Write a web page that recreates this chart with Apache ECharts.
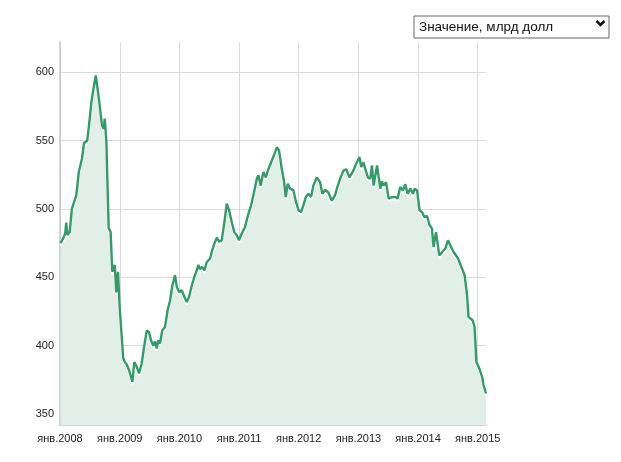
<!DOCTYPE html>
<html>
<head>
<meta charset="utf-8">
<script src="https://cdn.jsdelivr.net/npm/echarts@6/dist/echarts.min.js"></script>
<style>
  html, body { margin: 0; padding: 0; background: #fff; }
  #chart { width: 621px; height: 462px; }
</style>
</head>
<body>
<div id="chart"></div>
<script>
// недельные точки (млрд долл)
const dates = [
  '2008-01-04', '2008-01-19', '2008-02-02', '2008-02-08', '2008-02-15', '2008-02-29', '2008-03-14', '2008-03-27',
  '2008-04-10', '2008-04-25', '2008-05-15', '2008-05-27', '2008-06-16', '2008-07-01', '2008-07-11', '2008-07-27',
  '2008-08-07', '2008-08-16', '2008-08-25', '2008-09-04', '2008-09-14', '2008-09-25', '2008-10-01', '2008-10-11',
  '2008-10-25', '2008-11-06', '2008-11-16', '2008-12-01', '2008-12-11', '2008-12-21',
  '2009-01-01', '2009-01-10', '2009-01-22', '2009-02-01', '2009-02-13', '2009-02-27', '2009-03-09', '2009-03-19',
  '2009-03-31', '2009-04-15', '2009-04-29', '2009-05-15', '2009-05-31', '2009-06-15', '2009-06-29', '2009-07-11',
  '2009-07-25', '2009-08-05', '2009-08-15', '2009-08-25', '2009-09-04', '2009-09-18', '2009-10-05', '2009-10-21',
  '2009-11-05', '2009-11-19', '2009-12-05', '2009-12-16', '2009-12-31',
  '2010-01-15', '2010-02-05', '2010-02-15', '2010-03-01', '2010-03-18', '2010-04-02', '2010-04-17', '2010-04-27',
  '2010-05-07', '2010-05-21', '2010-06-03', '2010-06-17', '2010-07-08', '2010-07-18', '2010-08-03', '2010-08-18',
  '2010-09-01', '2010-09-17', '2010-10-03', '2010-10-18', '2010-11-01', '2010-11-18', '2010-12-03', '2010-12-18',
  '2011-01-01', '2011-01-18', '2011-02-07', '2011-02-24', '2011-03-16', '2011-03-30', '2011-04-20', '2011-04-29',
  '2011-05-14', '2011-05-30', '2011-06-14', '2011-06-30', '2011-07-20', '2011-08-10', '2011-08-20', '2011-09-03',
  '2011-09-20', '2011-10-04', '2011-10-14', '2011-10-26', '2011-11-10', '2011-11-30', '2011-12-14', '2011-12-31',
  '2012-01-16', '2012-01-30', '2012-02-14', '2012-03-01', '2012-03-17', '2012-03-31', '2012-04-21', '2012-05-11',
  '2012-05-25', '2012-06-11', '2012-07-01', '2012-07-22', '2012-08-11', '2012-08-22', '2012-09-11', '2012-10-01',
  '2012-10-18', '2012-11-07', '2012-12-01', '2012-12-18',
  '2013-01-08', '2013-01-18', '2013-02-01', '2013-02-12', '2013-02-28', '2013-03-14', '2013-03-25', '2013-04-04',
  '2013-04-14', '2013-04-25', '2013-05-04', '2013-05-15', '2013-05-25', '2013-06-04', '2013-06-19', '2013-07-05',
  '2013-07-25', '2013-08-15', '2013-08-29', '2013-09-14', '2013-10-01', '2013-10-15', '2013-10-29', '2013-11-15',
  '2013-12-01', '2013-12-11', '2013-12-26',
  '2014-01-10', '2014-01-25', '2014-02-08', '2014-02-25', '2014-03-13', '2014-03-27', '2014-04-06', '2014-04-21',
  '2014-05-11', '2014-05-23', '2014-06-17', '2014-07-03', '2014-07-17', '2014-08-07', '2014-09-03', '2014-09-27',
  '2014-10-13', '2014-10-28', '2014-11-06', '2014-12-01', '2014-12-13', '2014-12-24',
  '2015-01-11', '2015-01-28', '2015-02-06', '2015-02-21'
]

const reserves = [
  475, 478, 482, 490, 481, 483, 500, 505,
  510, 527, 537, 548, 550, 566, 578, 590,
  597.5, 597, 581.6, 583, 561, 558.5, 566, 549,
  486, 483, 454, 459, 439, 454,
  427, 426, 391, 388, 386, 382, 381, 373.6,
  388, 384.5, 379.7, 387, 400, 411, 410, 404,
  400, 403, 398, 404, 401.6, 411, 413.7, 426,
  433, 444, 451.5, 443, 439,
  440.5, 434.5, 432, 435.6, 444, 450, 455, 459,
  456, 457.5, 455, 461, 463.7, 468.5, 474.6, 479,
  476, 477, 490, 503.8, 499, 490, 483, 480.7,
  477, 482, 486.7, 495, 502.6, 510, 522, 524.5,
  517, 527, 523, 529, 535, 541.5, 545, 542.7,
  529, 519.6, 508.6, 518.4, 514.8, 513.5, 506, 499,
  497.7, 502.6, 508.6, 511, 508.6, 517, 523, 519.6,
  511, 514, 512, 506, 510, 514.8, 522, 528,
  529, 523, 528, 533,
  537.8, 530.6, 534, 529, 523, 522, 531.8, 517,
  517, 531.8, 533, 514.8, 520, 517, 519.6, 507.5,
  508.6, 508.6, 507.5, 516, 513.5, 518, 511, 514.8,
  511, 514.8, 513.5,
  499, 497.7, 494, 494.8, 488, 485.6, 472, 483,
  466, 467.3, 471, 477, 473.4, 468.5, 463.7, 456.4,
  451.5, 437, 421, 418.6, 413.7, 388,
  383.4, 377.2, 371.2, 365
]

const monthPrefix = 'янв.'
const selectLabel = 'Значение, млрд долл'

const chart = echarts.init(document.getElementById('chart'))
const font = '"Liberation Sans", Arial, sans-serif'
const yearMs = 365 * 24 * 3600 * 1000

chart.setOption({
  animation: false,
  grid: { left: 60, right: 135, top: 42, bottom: 37 },
  xAxis: {
    type: 'time',
    min: '2008-01-01',
    max: 'dataMax',
    minInterval: yearMs,
    maxInterval: yearMs + 24 * 3600 * 1000,
    axisLine: { lineStyle: { color: '#c4c4c4', width: 1.5 } },
    axisTick: { show: false },
    axisLabel: {
      color: '#222',
      fontFamily: font,
      fontSize: 11,
      margin: 8,
      hideOverlap: false,
      formatter: (val) => {
        const d = new Date(val)
        if (d.getMonth() !== 0 || d.getDate() !== 1) return ''
        return monthPrefix + d.getFullYear()
      }
    },
    splitLine: { show: true, showMaxLine: false, lineStyle: { color: '#dadada' } }
  },
  yAxis: {
    type: 'value',
    min: 342,
    max: 622,
    splitNumber: 5,
    axisLine: { show: true, lineStyle: { color: '#c4c4c4', width: 1.5 } },
    axisTick: { show: false },
    axisLabel: {
      color: '#222',
      fontFamily: font,
      fontSize: 11,
      margin: 6,
      showMinLabel: false,
      showMaxLabel: false
    },
    splitLine: { show: true, showMinLine: false, showMaxLine: false, lineStyle: { color: '#dadada' } }
  },
  series: [{
    type: 'line',
    data: dates.map((d, i) => [d, reserves[i]]),
    showSymbol: false,
    lineStyle: {
      color: '#37996a',
      width: 2.4,
      shadowColor: 'rgba(255,255,255,0.95)',
      shadowBlur: 0,
      shadowOffsetY: 2.5
    },
    areaStyle: { color: '#e1efe8', opacity: 1, origin: 'start' }
  }],
  graphic: [
    {
      type: 'rect',
      shape: { x: 414, y: 16, width: 195, height: 22 },
      style: { fill: '#fff', stroke: '#666', lineWidth: 1 }
    },
    {
      type: 'text',
      x: 419,
      y: 27,
      style: {
        text: selectLabel,
        fill: '#111',
        font: '13.5px ' + font,
        verticalAlign: 'middle'
      }
    },
    {
      type: 'polyline',
      shape: { points: [[596.5, 21], [600.5, 25], [604.5, 21]] },
      style: { stroke: '#111', lineWidth: 2.5, fill: null }
    }
  ]
})
</script>
</body>
</html>
